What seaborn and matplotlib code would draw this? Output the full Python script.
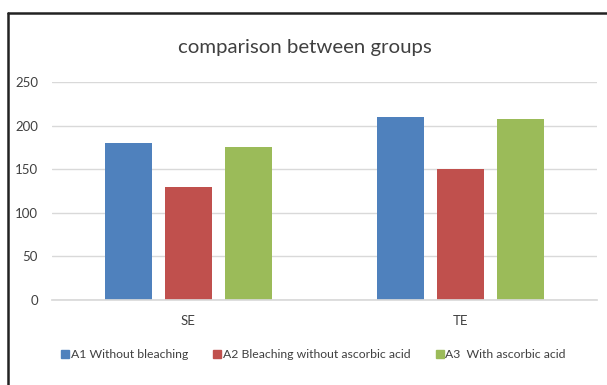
import matplotlib
matplotlib.use("Agg")
import matplotlib.pyplot as plt
import seaborn as sns
import pandas as pd
from matplotlib.lines import Line2D

categories = ["SE", "TE"]
series_names = ["A1 Without bleaching", "A2 Bleaching without ascorbic acid", "A3  With ascorbic acid"]
a1_values = [180, 210]
a2_values = [130, 150]
a3_values = [176, 207]
colors = ["#4F81BD", "#C0504D", "#9BBB59"]
yticks = [0, 50, 100, 150, 200, 250]

rows = []
for name, vals in zip(series_names, [a1_values, a2_values, a3_values]):
    for c, v in zip(categories, vals):
        rows.append({"cat": c, "series": name, "value": v})
df = pd.DataFrame(rows)

sns.set_theme(style="white")
plt.rcParams["font.family"] = ["Lato", "DejaVu Sans"]

W, H = 607, 385
fig = plt.figure(figsize=(W / 100, H / 100), dpi=100)
ax = fig.add_axes([52 / W, 1 - 300 / H, (597 - 52) / W, (300 - 82) / H])

sns.barplot(data=df, x="cat", y="value", hue="series", palette=colors,
            width=0.66, gap=0.21, ax=ax, legend=False, saturation=1,
            edgecolor="none")

ax.set_ylim(0, 250)
ax.set_xlim(-0.5, 1.5)
ax.set_yticks(yticks)
ax.set_yticklabels([str(t) for t in yticks], fontsize=9.5, color="#404040")
ax.tick_params(axis="y", length=0, pad=10)
ax.tick_params(axis="x", length=0, pad=11, labelsize=9.5, labelcolor="#404040")
ax.yaxis.grid(True, color="#D9D9D9", linewidth=1)
ax.set_axisbelow(True)
for s in ["top", "right", "left"]:
    ax.spines[s].set_visible(False)
ax.spines["bottom"].set_color("#D9D9D9")
ax.set_xlabel("")
ax.set_ylabel("")

fig.text(305 / W, 1 - 47 / H, "comparison between groups", ha="center", va="center",
         fontsize=14.7, color="#404040")

handles = [Line2D([], [], marker="s", linestyle="none", markersize=5.5,
                  markerfacecolor=c, markeredgecolor=c) for c in colors]
fig.legend(handles, series_names, loc="center", bbox_to_anchor=(313 / W, 1 - 355 / H),
           ncol=3, frameon=False, fontsize=8.8, handletextpad=0.05, columnspacing=2.0,
           labelcolor="#404040", handlelength=0.8)

# outer frame (top and left edges)
fig.add_artist(Line2D([7.5 / W, 1.0], [1 - 12.5 / H, 1 - 12.5 / H], color="#222222", linewidth=1.8))
fig.add_artist(Line2D([7.5 / W, 7.5 / W], [1 - 12.5 / H, 0], color="#222222", linewidth=1.8))

fig.savefig("out.png", dpi=100, facecolor="white")
